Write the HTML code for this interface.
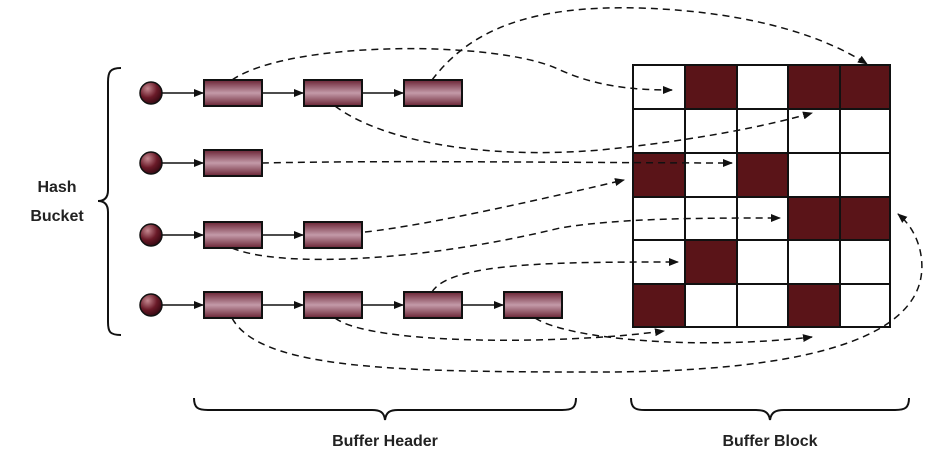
<!DOCTYPE html>
<html><head><meta charset="utf-8"><style>
html,body{margin:0;padding:0;background:#fff;}
svg{display:block}
text{font-family:"Liberation Sans",sans-serif;font-weight:bold;font-size:16px;fill:#222}
</style></head><body>
<svg width="948" height="460" viewBox="0 0 948 460" xmlns="http://www.w3.org/2000/svg">
<defs>
<linearGradient id="bx" x1="0" y1="0" x2="0" y2="1">
<stop offset="0" stop-color="#6a2435"/><stop offset="0.5" stop-color="#c39aa8"/><stop offset="1" stop-color="#6a2435"/>
</linearGradient>
<radialGradient id="ball" cx="0.35" cy="0.3" r="0.7">
<stop offset="0" stop-color="#c48890"/><stop offset="0.6" stop-color="#6a1a28"/><stop offset="1" stop-color="#3a0a14"/>
</radialGradient>
<marker id="a" markerWidth="10" markerHeight="8" refX="9" refY="4" orient="auto" markerUnits="userSpaceOnUse">
<path d="M0,0 L10,4 L0,8 Z" fill="#111"/></marker>
</defs>

<!-- grid -->
<g stroke="#111" stroke-width="2">
<rect x="633" y="65" width="257" height="262" fill="#fff"/>
</g>
<g fill="#5a1418">
<rect x="685" y="65" width="52" height="44"/><rect x="788" y="65" width="52" height="44"/><rect x="840" y="65" width="50" height="44"/>
<rect x="633" y="153" width="52" height="44"/><rect x="737" y="153" width="51" height="44"/>
<rect x="788" y="197" width="52" height="43"/><rect x="840" y="197" width="50" height="43"/>
<rect x="685" y="240" width="52" height="44"/>
<rect x="633" y="284" width="52" height="43"/><rect x="788" y="284" width="52" height="43"/>
</g>
<g stroke="#111" stroke-width="2" fill="none">
<path d="M685,65V327M737,65V327M788,65V327M840,65V327M633,109H890M633,153H890M633,197H890M633,240H890M633,284H890"/>
<rect x="633" y="65" width="257" height="262"/>
</g>

<!-- balls and boxes -->
<g stroke="#111" stroke-width="1.5">
<circle cx="151" cy="93" r="11" fill="url(#ball)"/>
<circle cx="151" cy="163" r="11" fill="url(#ball)"/>
<circle cx="151" cy="235" r="11" fill="url(#ball)"/>
<circle cx="151" cy="305" r="11" fill="url(#ball)"/>
<g fill="url(#bx)" stroke-width="2">
<rect x="204" y="80" width="58" height="26"/><rect x="304" y="80" width="58" height="26"/><rect x="404" y="80" width="58" height="26"/>
<rect x="204" y="150" width="58" height="26"/>
<rect x="204" y="222" width="58" height="26"/><rect x="304" y="222" width="58" height="26"/>
<rect x="204" y="292" width="58" height="26"/><rect x="304" y="292" width="58" height="26"/><rect x="404" y="292" width="58" height="26"/><rect x="504" y="292" width="58" height="26"/>
</g>
</g>
<g stroke="#111" stroke-width="1.5" fill="none" marker-end="url(#a)">
<path d="M162,93H203"/><path d="M262,93H303"/><path d="M362,93H403"/>
<path d="M162,163H203"/>
<path d="M162,235H203"/><path d="M262,235H303"/>
<path d="M162,305H203"/><path d="M262,305H303"/><path d="M362,305H403"/><path d="M462,305H503"/>
</g>

<!-- dashed connectors -->
<g stroke="#111" stroke-width="1.5" fill="none" stroke-dasharray="7,5" marker-end="url(#a)">
<path d="M232,80 C290,40 500,40 560,70 C600,88 640,90 672,90"/>
<path d="M432,80 C470,30 530,5 640,8 C760,12 830,40 867,64"/>
<path d="M335,106 C380,140 480,160 600,150 C700,140 770,125 812,113"/>
<path d="M262,163 C400,160 600,163 732,163"/>
<path d="M365,232 C430,225 560,195 624,180"/>
<path d="M232,248 C280,268 420,262 560,228 C620,218 700,218 780,218"/>
<path d="M432,292 C450,262 560,262 678,262"/>
<path d="M335,318 C370,345 560,345 664,331"/>
<path d="M535,318 C570,340 700,350 812,337"/>
<path d="M232,318 C260,370 400,372 600,372 C800,372 940,340 920,250 C915,230 905,220 898,214"/>
</g>

<!-- braces -->
<g stroke="#111" stroke-width="2" fill="none">
<path d="M121,68 C110,68 108,72 108,82 L108,190 C108,198 104,201 98,201 C104,201 108,204 108,212 L108,322 C108,332 110,335 121,335"/>
<path d="M194,398 C194,408 198,410 208,410 L372,410 C380,410 384,412 385,420 C386,412 390,410 398,410 L562,410 C572,410 576,408 576,398"/>
<path d="M631,398 C631,408 635,410 645,410 L756,410 C764,410 769,412 770,420 C771,412 776,410 784,410 L895,410 C905,410 909,408 909,398"/>
</g>
<text x="57" y="192" text-anchor="middle">Hash</text>
<text x="57" y="221" text-anchor="middle">Bucket</text>
<text x="385" y="446" text-anchor="middle">Buffer Header</text>
<text x="770" y="446" text-anchor="middle">Buffer Block</text>
</svg>
</body></html>
